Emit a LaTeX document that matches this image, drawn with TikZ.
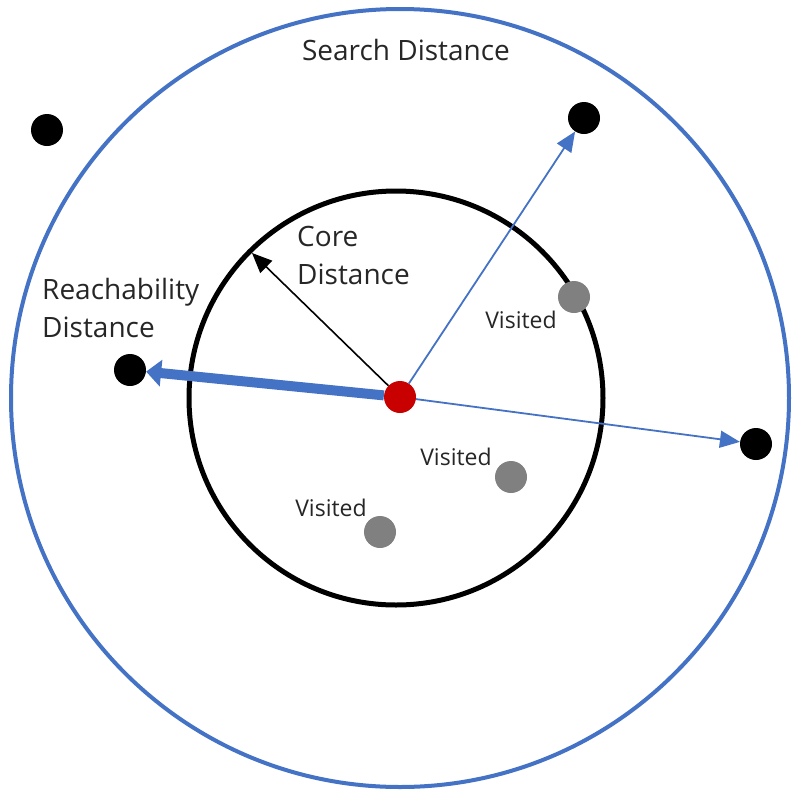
\documentclass[tikz,border=0pt]{standalone}
\usepackage{fontspec}
\setmainfont{Open Sans}
\usetikzlibrary{arrows.meta, positioning}
\definecolor{cBlue}{RGB}{68,114,196}
\definecolor{cRed}{RGB}{200,0,0}
\definecolor{cGrey}{RGB}{128,128,128}
\tikzset{
	pt/.style       ={circle, inner sep=0pt, minimum size=32pt, fill=black},
	visited/.style  ={pt, fill=cGrey},
	core/.style     ={pt, fill=cRed},
	lbl/.style      ={font=\fontsize{28}{38}\selectfont, text=black!85, align=left, inner sep=0pt},
	small/.style    ={lbl, font=\fontsize{23}{26}\selectfont},
	reach/.style    ={-{Triangle[length=20pt, width=17pt]}, cBlue, line width=1.8pt},
	reachbig/.style ={-{Triangle[length=15pt, width=26pt]}, cBlue, line width=10pt},
	coreline/.style ={-{Triangle[length=20pt, width=17pt]}, black, line width=1.6pt},
}
\begin{document}
\begin{tikzpicture}[x=1pt, y=-1pt]
	\useasboundingbox (0,0) rectangle (792,793);
	% search and core circles
	\draw[cBlue, line width=4pt] (400,398) circle (389);
	\draw[black, line width=5pt] (396,398) circle (207);
	% points
	\node[core] (c) at (400,397) {};
	\node[pt] (p1) at (47,130) {};
	\node[pt] (p2) at (584,118) {};
	\node[pt] (p3) at (130,370) {};
	\node[pt] (p4) at (756,444) {};
	\node[visited] (v1) at (574,297) {};
	\node[visited] (v2) at (511,477) {};
	\node[visited] (v3) at (380,532) {};
	\coordinate (rim) at (252,253);
	% arrows
	\draw[reachbig] (c) -- (p3);
	\draw[reach] (c) -- (p2);
	\draw[reach] (c) -- (p4);
	\draw[coreline] (c) -- (rim);
	% labels
	\node[lbl] (ls) at (406,50) {Search Distance};
	\node[lbl, anchor=north west] (lc) at (297,226) {Core\\Distance};
	\node[lbl, anchor=north west] (lr) at (42,278) {Reachability\\Distance};
	\node[small] (t1) at (521,320) {Visited};
	\node[small] (t2) at (456,457) {Visited};
	\node[small] (t3) at (331,508) {Visited};
\end{tikzpicture}
\end{document}
